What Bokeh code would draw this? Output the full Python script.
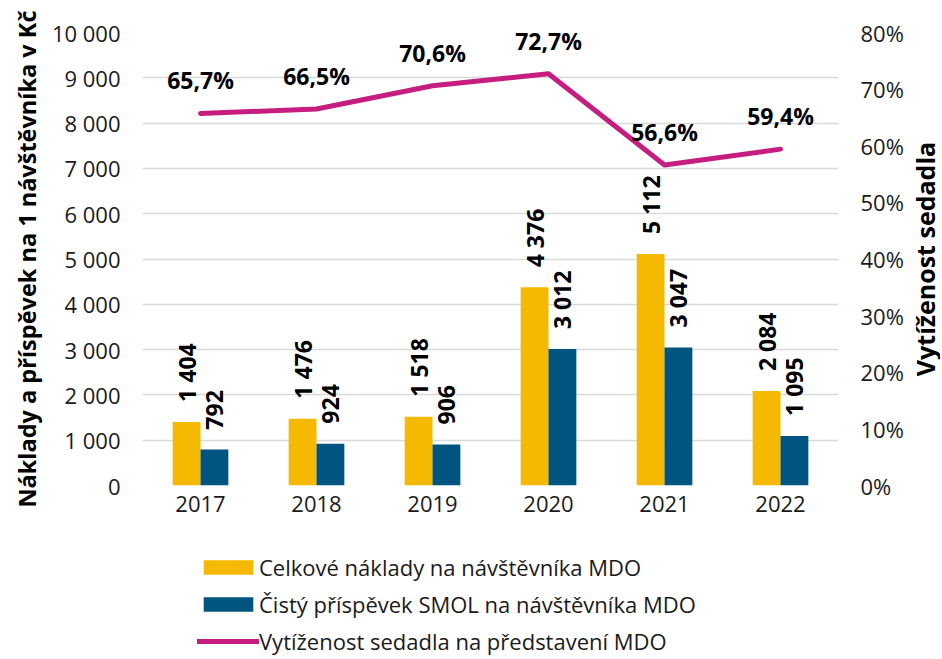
from math import pi

from bokeh.plotting import figure
from bokeh.layouts import column, row
from bokeh.models import (ColumnDataSource, FactorRange, Range1d, LinearAxis, FixedTicker,
                          LabelSet, Legend, LegendItem, Label)
from bokeh.core.properties import value
from bokeh.transform import dodge
from bokeh.embed import file_html
from bokeh.resources import INLINE

# ---------------- data ----------------
years = ["2017", "2018", "2019", "2020", "2021", "2022"]
total_cost = [1404, 1476, 1518, 4376, 5112, 2084]          # Celkové náklady na návštěvníka MDO
net_contribution = [792, 924, 906, 3012, 3047, 1095]       # Čistý příspěvek SMOL na návštěvníka MDO
occupancy = [65.7, 66.5, 70.6, 72.7, 56.6, 59.4]           # Vytíženost sedadla (%)

left_ticks = [0, 1000, 2000, 3000, 4000, 5000, 6000, 7000, 8000, 9000, 10000]
left_tick_labels = ["0", "1 000", "2 000", "3 000", "4 000", "5 000",
                    "6 000", "7 000", "8 000", "9 000", "10 000"]
right_ticks = [0, 10, 20, 30, 40, 50, 60, 70, 80]
right_tick_labels = ["0%", "10%", "20%", "30%", "40%", "50%", "60%", "70%", "80%"]

series_names = ["Celkové náklady na návštěvníka MDO",
                "Čistý příspěvek SMOL na návštěvníka MDO",
                "Vytíženost sedadla na představení MDO"]
left_title = "Náklady a příspěvek na 1 návštěvníka v Kč"
right_title = "Vytíženost sedadla"

# ---------------- style ----------------
FONT = "Open Sans"
YELLOW = "#F4B900"
BLUE = "#005480"
MAGENTA = "#C61E80"
GRID = "#D9D9D9"
TXT = "#1a1a1a"
TICK_FS = "22px"
TITLE_FS = "23.5px"
RTITLE_FS = "25px"
DATA_FS = "23px"
MAIN_W, TITLE_W, MAIN_H, LEG_H = 908, 32, 540, 117


def fmt_thousands(v):
    return f"{v:,}".replace(",", " ")


def fmt_pct(v):
    return f"{v:.1f}".replace(".", ",") + "%"


def bare(axis):
    axis.axis_line_color = None
    axis.major_tick_line_color = None
    axis.minor_tick_line_color = None
    axis.major_tick_out = 0
    axis.major_tick_in = 0
    axis.minor_tick_out = 0
    axis.minor_tick_in = 0


def blank_fig(w, h):
    f = figure(width=w, height=h, x_range=Range1d(0, 1), y_range=Range1d(0, 1),
               min_border_left=0, min_border_right=0, min_border_top=0, min_border_bottom=0,
               x_axis_type=None, y_axis_type=None,
               output_backend="svg", toolbar_location=None)
    f.outline_line_color = None
    f.xgrid.grid_line_color = None
    f.ygrid.grid_line_color = None
    return f


src = ColumnDataSource(dict(
    year=years,
    cost=total_cost,
    net=net_contribution,
    occ=occupancy,
    cost_lbl=[fmt_thousands(v) for v in total_cost],
    net_lbl=[fmt_thousands(v) for v in net_contribution],
    occ_lbl=[fmt_pct(v) for v in occupancy],
))

p = figure(x_range=FactorRange(factors=years, range_padding=0),
           y_range=Range1d(0, 10000),
           width=MAIN_W, height=MAIN_H,
           min_border_left=142, min_border_right=70,
           min_border_top=32, min_border_bottom=55,
           output_backend="svg", toolbar_location=None)
p.extra_y_ranges = {"pct": Range1d(0, 80)}

p.outline_line_color = None
p.background_fill_color = "white"
p.border_fill_color = "white"

# grid
p.xgrid.grid_line_color = None
left_ticker = FixedTicker(ticks=left_ticks)
p.yaxis[0].ticker = left_ticker
p.ygrid.ticker = left_ticker
p.ygrid.grid_line_color = GRID
p.ygrid.grid_line_width = 1.5

# left axis
ya = p.yaxis[0]
ya.major_label_overrides = {t: s for t, s in zip(left_ticks, left_tick_labels)}
ya.major_label_text_font = FONT
ya.major_label_text_font_size = TICK_FS
ya.major_label_text_color = TXT
ya.major_label_standoff = 22
ya.axis_label = left_title
ya.axis_label_text_font = FONT
ya.axis_label_text_font_style = "bold"
ya.axis_label_text_font_size = TITLE_FS
ya.axis_label_text_color = "#000000"
ya.axis_label_standoff = 6
bare(ya)

# right axis
ra = LinearAxis(y_range_name="pct", ticker=FixedTicker(ticks=right_ticks))
ra.major_label_overrides = {t: s for t, s in zip(right_ticks, right_tick_labels)}
ra.major_label_text_font = FONT
ra.major_label_text_font_size = TICK_FS
ra.major_label_text_color = TXT
ra.major_label_standoff = 22
bare(ra)
p.add_layout(ra, "right")

# x axis
xa = p.xaxis[0]
xa.major_label_text_font = FONT
xa.major_label_text_font_size = TICK_FS
xa.major_label_text_color = TXT
xa.major_label_standoff = 10
bare(xa)

# bars
p.vbar(x=dodge("year", -0.12, range=p.x_range), top="cost", width=0.24,
       source=src, fill_color=YELLOW, line_color=None)
p.vbar(x=dodge("year", 0.12, range=p.x_range), top="net", width=0.24,
       source=src, fill_color=BLUE, line_color=None)

# line
p.line(x="year", y="occ", y_range_name="pct", source=src,
       line_color=MAGENTA, line_width=5, line_cap="round", line_join="round")

# bar labels (rotated)
for col, lbl, off in (("cost", "cost_lbl", -0.12), ("net", "net_lbl", 0.12)):
    p.add_layout(LabelSet(x=dodge("year", off, range=p.x_range), y=col, text=lbl, source=src,
                          angle=pi / 2, text_align="left", text_baseline="middle",
                          y_offset=20,
                          text_font=value(FONT), text_font_size=value(DATA_FS),
                          text_font_style=value("bold"), text_color="#000000"))

# line labels
p.add_layout(LabelSet(x="year", y="occ", y_range_name="pct", text="occ_lbl", source=src,
                      text_align="center", text_baseline="middle", y_offset=33,
                      text_font=value(FONT), text_font_size=value(DATA_FS),
                      text_font_style=value("bold"), text_color="#000000"))

# ---------------- right-hand title strip ----------------
tf = blank_fig(TITLE_W, MAIN_H)
tf.add_layout(Label(x=0.5, y=0.5, text=right_title, angle=pi / 2,
                    text_align="center", text_baseline="middle",
                    text_font=FONT, text_font_size=RTITLE_FS, text_font_style="bold",
                    text_color="#000000"))

# ---------------- legend strip below ----------------
lg = blank_fig(MAIN_W + TITLE_W, LEG_H)
# off-range stand-ins, only so that the legend has glyphs to show
stand_in = ColumnDataSource(dict(x=[-5, -4], y=[-5, -4]))
g_cost = lg.vbar(x="x", top="y", width=0.1, source=stand_in, fill_color=YELLOW, line_color=None)
g_net = lg.vbar(x="x", top="y", width=0.1, source=stand_in, fill_color=BLUE, line_color=None)
g_occ = lg.line(x="x", y="y", source=stand_in, line_color=MAGENTA, line_width=5, line_cap="round")

legend = Legend(items=[LegendItem(label=series_names[0], renderers=[g_cost]),
                       LegendItem(label=series_names[1], renderers=[g_net]),
                       LegendItem(label=series_names[2], renderers=[g_occ])],
                location=(197, 1), orientation="vertical",
                glyph_width=62, glyph_height=18, label_height=30, spacing=7,
                label_standoff=0, padding=0, margin=0,
                border_line_color=None, background_fill_alpha=0,
                label_text_font=FONT, label_text_font_size=TICK_FS, label_text_color=TXT)
lg.add_layout(legend, "center")

layout = column(row(p, tf, spacing=0), lg, spacing=0)
open("out.html", "w").write(file_html(layout, INLINE))
